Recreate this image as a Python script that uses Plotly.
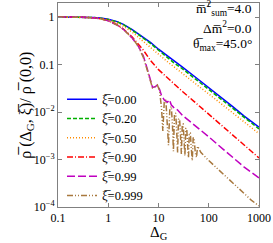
import plotly.graph_objects as go

# ---- data ----
delta_common = [0.1, 0.2, 0.3, 0.5, 0.7, 1, 1.5, 2, 3, 5, 7, 10, 15, 20, 30, 50, 70,
                100, 200, 300, 500, 700, 1000]
rho_xi000 = [1.0, 1.0, 0.995, 0.98, 0.95, 0.9, 0.8, 0.7, 0.54, 0.38, 0.29, 0.21, 0.15,
             0.12, 0.088, 0.058, 0.044, 0.032, 0.018, 0.013, 0.0083, 0.0063, 0.0048]
rho_xi020 = [1.0, 1.0, 0.995, 0.975, 0.945, 0.89, 0.79, 0.69, 0.53, 0.36, 0.275, 0.2, 0.14,
             0.11, 0.081, 0.053, 0.04, 0.029, 0.0165, 0.012, 0.0077, 0.0058, 0.0044]
rho_xi050 = [1.0, 1.0, 0.99, 0.97, 0.93, 0.87, 0.75, 0.64, 0.48, 0.31, 0.23, 0.165, 0.115,
             0.09, 0.065, 0.042, 0.032, 0.024, 0.0135, 0.0097, 0.0062, 0.0047, 0.0035]
rho_xi090 = [1.0, 1.0, 0.99, 0.96, 0.92, 0.84, 0.69, 0.56, 0.38, 0.2, 0.12, 0.078, 0.052,
             0.04, 0.027, 0.017, 0.0125, 0.0092, 0.0048, 0.0033, 0.0021, 0.0015, 0.00108]

delta_xi099 = [0.1, 0.2, 0.3, 0.5, 0.7, 1, 1.5, 2, 3, 4, 5, 6, 7, 7.6, 8.5, 9.5, 10.5, 11.5,
               13, 15, 16.5, 18, 20, 24, 30, 50, 70, 100, 200, 300, 500, 700, 1000]
rho_xi099 = [1.0, 1.0, 0.99, 0.96, 0.92, 0.83, 0.68, 0.55, 0.36, 0.24, 0.15, 0.08, 0.045,
             0.033, 0.034, 0.037, 0.03, 0.022, 0.018, 0.016, 0.018, 0.014, 0.0125, 0.011,
             0.0085, 0.0055, 0.004, 0.003, 0.0016, 0.0011, 0.0007, 0.00054, 0.00041]

delta_xi0999 = [0.1, 0.2, 0.3, 0.5, 0.7, 1, 1.5, 2, 3, 4, 5, 6, 7, 7.6, 8.5, 9.5, 10.5, 11.5,
                12.2, 13, 14, 15, 15.8, 16.8, 18, 19, 19.8, 20.8, 22, 23, 24, 25, 26.3, 27.5,
                28.5, 29.7, 31, 32.3, 33.5, 35, 36.5, 38, 39.5, 41, 43, 45, 47, 49, 51, 54,
                57, 60, 64, 70, 100, 200, 300, 500, 700, 1000]
rho_xi0999 = [1.0, 1.0, 0.99, 0.96, 0.92, 0.83, 0.68, 0.55, 0.36, 0.24, 0.14, 0.075, 0.042,
              0.032, 0.034, 0.037, 0.028, 0.012, 0.004, 0.016, 0.018, 0.006, 0.002, 0.012,
              0.013, 0.005, 0.0015, 0.009, 0.0095, 0.004, 0.0014, 0.007, 0.0072, 0.003,
              0.0013, 0.0055, 0.0056, 0.0025, 0.0012, 0.0045, 0.0045, 0.002, 0.0011, 0.0036,
              0.0036, 0.0017, 0.00095, 0.0029, 0.0028, 0.0014, 0.0011, 0.0019, 0.0017,
              0.0014, 0.00095, 0.00048, 0.00033, 0.0002, 0.00014, 0.000105]

labels = ["ξ̅=0.00", "ξ̅=0.20", "ξ̅=0.50", "ξ̅=0.90", "ξ̅=0.99", "ξ̅=0.999"]
x_tickvals = [0.1, 1, 10, 100, 1000]
x_ticktext = ["0.1", "1", "10", "100", "1000"]
y_tickvals = [1, 0.1, 0.01, 0.001, 0.0001]
y_ticktext = ["1", "0.1", "10<sup>−2</sup>", "10<sup>−3</sup>", "10<sup>−4</sup>"]

series = [
    (delta_common, rho_xi000, "#0000ff", "solid"),
    (delta_common, rho_xi020, "#00b000", "4px,2px"),
    (delta_common, rho_xi050, "#ff8c00", "1px,2px"),
    (delta_common, rho_xi090, "#ff0000", "6px,2px,1px,2px"),
    (delta_xi099, rho_xi099, "#c000c0", "8px,3px"),
    (delta_xi0999, rho_xi0999, "#a8783e", "6px,2px,1px,2px,1px,2px"),
]

FONT = "Liberation Serif"

fig = go.Figure()
for (xs, ys, col, dash), lab in zip(series, labels):
    fig.add_trace(go.Scatter(x=xs, y=ys, mode="lines", name=lab,
                             line=dict(color=col, width=1.5, dash=dash)))

axis_common = dict(type="log", showgrid=False, zeroline=False, showline=True,
                   linecolor="#808080", linewidth=1, mirror="ticks", ticks="inside",
                   ticklen=4, tickcolor="#808080",
                   tickfont=dict(family=FONT, size=12, color="black"))

fig.update_layout(
    width=273, height=243,
    margin=dict(l=58, r=14, t=3, b=36),
    paper_bgcolor="white", plot_bgcolor="white",
    showlegend=True,
    legend=dict(x=0.02, y=0.6, xanchor="left", yanchor="top",
                bgcolor="rgba(0,0,0,0)", font=dict(family=FONT, size=12.5, color="black"),
                tracegroupgap=0, itemwidth=30),
    xaxis=dict(axis_common, range=[-1, 3], tickvals=x_tickvals, ticktext=x_ticktext),
    yaxis=dict(axis_common, range=[-4, 0.295], tickvals=y_tickvals, ticktext=y_ticktext),
)

title_font = dict(family=FONT, size=15, color="black")
fig.add_annotation(text="Δ<sub>G</sub>", xref="paper", yref="paper", x=0.5, y=-0.125,
                   xanchor="center", yanchor="middle", showarrow=False, font=title_font)
fig.add_annotation(text="ρ̅ (Δ<sub>G</sub>, ξ̅)/ ρ̅ (0,0)", xref="paper", yref="paper",
                   x=-0.16, y=0.5, xanchor="center", yanchor="middle", textangle=-90,
                   showarrow=False, font=dict(family=FONT, size=16, color="black"))

ann_font = dict(family=FONT, size=13.5, color="black")
for txt, yy in [("m̅<sup>2</sup><sub>sum</sub>=4.0", 0.972),
                ("Δm̅<sup>2</sup>=0.0", 0.878),
                ("θ̅<sub>max</sub>=45.0°", 0.795)]:
    fig.add_annotation(text=txt, xref="paper", yref="paper", x=0.975, y=yy,
                       xanchor="right", yanchor="middle", showarrow=False, font=ann_font)

fig.write_html("out.html", config={"displayModeBar": False},
               post_script="document.body.style.margin='0';")
